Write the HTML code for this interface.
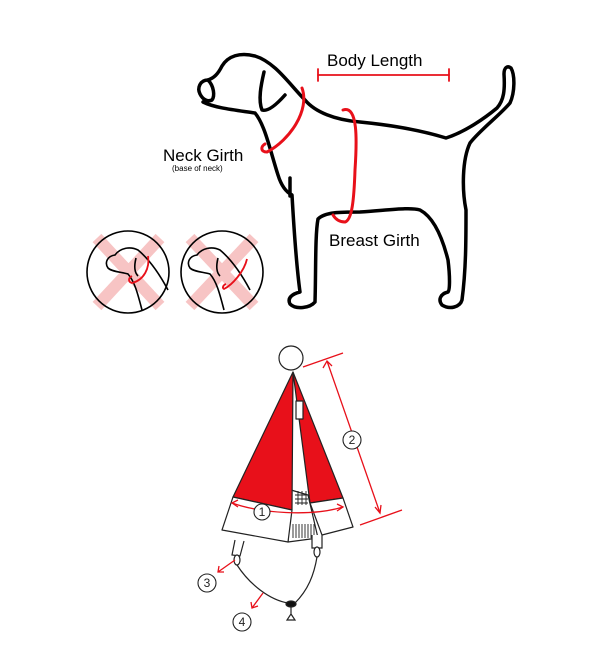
<!DOCTYPE html>
<html><head><meta charset="utf-8"><style>
html,body{margin:0;padding:0;background:#fff;width:600px;height:672px;overflow:hidden}
svg{display:block}
text{font-family:"Liberation Sans",sans-serif}
</style></head><body>
<svg width="600" height="672" viewBox="0 0 600 672" xmlns="http://www.w3.org/2000/svg">
<!-- X circles -->
<g stroke="#f7c4c4" stroke-width="12" stroke-linecap="butt">
<line x1="97" y1="238" x2="160" y2="306"/><line x1="160" y1="238" x2="97" y2="306"/>
<line x1="190" y1="238" x2="254" y2="306"/><line x1="254" y1="238" x2="190" y2="306"/>
</g>
<g fill="none" stroke="#000" stroke-width="1.6">
<circle cx="128" cy="272" r="41"/><circle cx="222" cy="272" r="41"/>
<!-- mini dog 1 -->
<path d="M168 290 C160 275 150 260 138 250 C130 246 120 248 115 255 C108 256 104 262 108 268 C112 272 122 272 128 274 C135 282 138 295 142 310"/>
<path d="M136 258 C134 266 134 272 138 276"/>
<path d="M250 290 C242 275 232 260 220 250 C212 246 202 248 197 255 C190 256 186 262 190 268 C194 272 204 272 210 274 C217 282 220 295 224 310"/>
<path d="M218 258 C216 266 216 272 220 276"/>
</g>
<g fill="none" stroke="#e8101a" stroke-width="1.8">
<path d="M148 256 C150 268 144 280 132 283 C128 282 128 278 132 276"/>
<path d="M247 259 C244 272 232 285 224 289 C222 288 223 285 226 284"/>
</g>
<!-- main dog -->
<g fill="none" stroke="#000" stroke-width="3.5" stroke-linejoin="round" stroke-linecap="round">
<path d="M203 102 C215 108 235 110 255 113 C265 125 270 150 278 175 C282 188 288 193 292 195 C294 230 297 270 300 292 C292 294 287 298 290 304 C296 310 310 308 315 302 C316 270 315 235 318 219 C325 212 340 212 360 212 C390 210 410 207 420 210 C435 218 443 240 448 260 C450 276 450 290 448 292 C440 294 438 300 442 305 C450 310 460 307 462 300 C466 270 466 240 466 210 C462 190 462 160 470 143 C480 130 500 115 510 103 C515 92 515 75 511 68 C507 65 504 68 504 74 C505 90 504 100 497 108 C485 118 465 132 446 138 C420 130 390 125 360 122 C335 120 315 112 305 100 C290 85 275 62 255 56 C240 52 228 56 222 66 C218 74 214 78 208 80"/>
<path d="M208 80 C200 80 197 88 200 94 C203 100 208 102 212 100 C215 96 214 86 208 80"/>
<path d="M264 72 C261 85 258 100 262 110 C268 112 277 104 285 95"/>
<path d="M290 178 L290 196"/>
</g>
<g fill="none" stroke="#e8101a" stroke-width="3" stroke-linecap="round">
<path d="M302 88 C310 110 290 140 267 152 C260 152 261 146 265 144"/>
<path d="M343 110 C358 105 357 140 355 170 C354 200 352 220 345 222 C340 222 336 220 333 215"/>
<line x1="318" y1="75" x2="449" y2="75" stroke-width="1.8"/>
<line x1="318" y1="69" x2="318" y2="81" stroke-width="1.8"/>
<line x1="449" y1="69" x2="449" y2="81" stroke-width="1.8"/>
</g>
<text x="327" y="66" font-size="17">Body Length</text>
<text x="163" y="161" font-size="17">Neck Girth</text>
<text x="172" y="171" font-size="8">(base of neck)</text>
<text x="329" y="246" font-size="17">Breast Girth</text>
<!-- hat -->
<g stroke="#222" stroke-width="1.2" stroke-linejoin="round">
<polygon points="291,490 308,495 318,538 288,542" fill="#fff"/>
<polygon points="293,372 343,498 310,503" fill="#e8101a"/>
<polygon points="293,372 292,510 233,497" fill="#e8101a"/>
<rect x="296" y="401" width="7" height="18" fill="#fff"/>
<polygon points="233,497 292,510 288,542 222,530" fill="#fff"/>
<polygon points="310,503 343,498 353,527 322,535" fill="#fff"/>
<circle cx="291" cy="358" r="12" fill="#fff"/>
</g>
<g stroke="#222" stroke-width="0.9">
<path d="M295 495h13M295 499h13M295 503h13M298 491v14M302 491v14M306 491v14"/>
<path d="M293 524v14M296 524v14M299 524v14M302 524v14M305 524v14M308 524v14M311 524v14M314 524v14"/>
</g>
<g fill="#fff" stroke="#222" stroke-width="1.2">
<path d="M235 540 L232 555 L240 556 L244 541"/>
<path d="M312 535 L312 548 L322 548 L322 535"/>
<ellipse cx="237" cy="560" rx="3" ry="5"/>
<ellipse cx="317" cy="552" rx="3" ry="5"/>
<path d="M237 565 C250 585 270 600 288 603 M295 603 C308 590 314 575 317 557" fill="none"/>
<ellipse cx="291" cy="604" rx="5" ry="3" fill="#111"/>
<path d="M291 607 L291 614 L287 620 L295 620 L291 614" />
</g>
<g fill="none" stroke="#e8101a" stroke-width="1.3">
<line x1="303" y1="367" x2="343" y2="353"/>
<line x1="360" y1="525" x2="402" y2="510"/>
<line x1="327" y1="361" x2="380" y2="513"/>
<path d="M323 368 L327 361 L332 366 M375 507 L380 513 L381 505"/>
<path d="M232 503 C260 513 310 517 343 507"/>
<path d="M238 500 L232 503 L238 507 M337 504 L343 507 L337 511"/>
<line x1="235" y1="560" x2="218" y2="572"/>
<path d="M219 566 L218 572 L224 572"/>
<line x1="263" y1="593" x2="252" y2="608"/>
<path d="M251 602 L252 608 L258 606"/>
</g>
<g fill="#fff" stroke="#222" stroke-width="1.1">
<circle cx="262" cy="512" r="8"/><circle cx="352" cy="440" r="9"/>
<circle cx="207" cy="583" r="9"/><circle cx="242" cy="622" r="9"/>
</g>
<g font-size="12" text-anchor="middle" fill="#222">
<text x="262" y="516">1</text><text x="352" y="444">2</text>
<text x="207" y="587">3</text><text x="242" y="626">4</text>
</g>
</svg>
</body></html>
